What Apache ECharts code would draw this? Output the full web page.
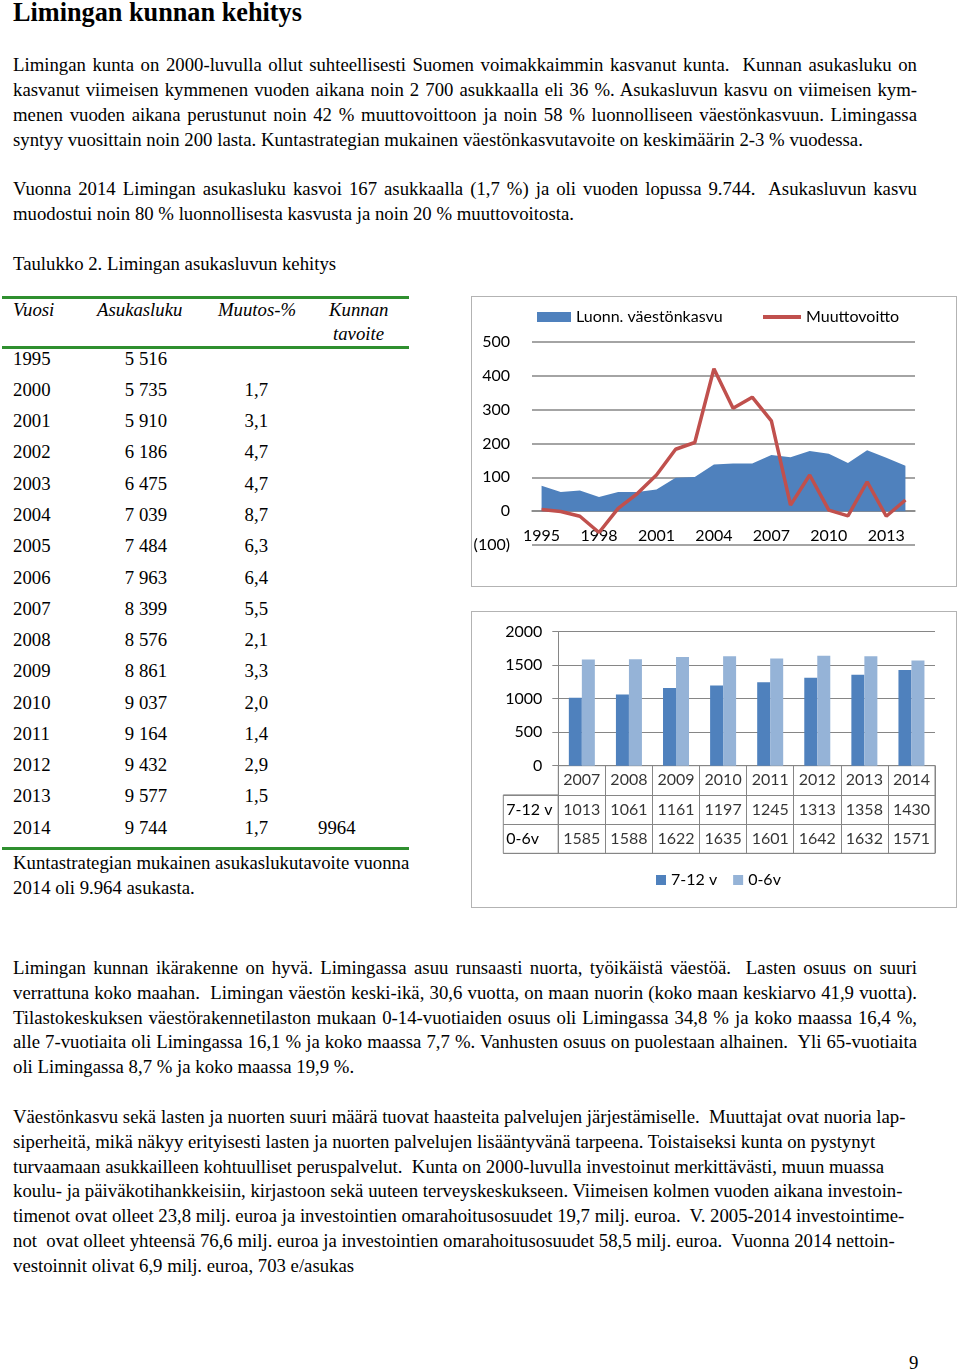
<!DOCTYPE html>
<html><head><meta charset="utf-8">
<script src="https://cdn.jsdelivr.net/npm/echarts/dist/echarts.min.js"></script>
<style>
html,body{margin:0;padding:0;background:#fff;}
body{width:960px;height:1371px;position:relative;overflow:hidden;font-family:"Liberation Serif","Times New Roman",serif;color:#000;}
.ln{position:absolute;white-space:pre;line-height:24px;height:24px;}
.box{position:absolute;border:1.5px solid #b3b3b3;box-sizing:border-box;}
.gl{position:absolute;left:2px;width:407px;height:3px;background:#2f8f2f;}
.ch{position:absolute;}
</style></head><body>
<div class="box" style="left:471px;top:296px;width:486px;height:291px;"></div>
<div class="box" style="left:471px;top:611px;width:486px;height:297px;"></div>
<div class="gl" style="top:296px;"></div>
<div class="gl" style="top:346px;"></div>
<div class="gl" style="top:847px;"></div>
<div id="c1" class="ch" style="left:471px;top:296px;width:486px;height:291px;"></div>
<div id="c2" class="ch" style="left:471px;top:612px;width:486px;height:296px;"></div>
<script>
// ---------- data ----------
const years1 = ['1995','1996','1997','1998','1999','2000','2001','2002','2003','2004','2005','2006','2007','2008','2009','2010','2011','2012','2013','2014'];
const naturalGrowth = [75,57,61,42,57,57,64,99,101,138,141,141,166,159,178,170,142,180,158,134];
const netMigration = [5,-1,-15,-63,8,52,107,183,203,421,304,337,267,18,107,3,-14,87,-15,33];

const years2 = ['2007','2008','2009','2010','2011','2012','2013','2014'];
const age7to12 = [1013,1061,1161,1197,1245,1313,1358,1430];
const age0to6 = [1585,1588,1622,1635,1601,1642,1632,1571];
const rowLabels = ['7-12 v','0-6v'];

const tableYears = [1995,2000,2001,2002,2003,2004,2005,2006,2007,2008,2009,2010,2011,2012,2013,2014];
const population = [5516,5735,5910,6186,6475,7039,7484,7963,8399,8576,8861,9037,9164,9432,9577,9744];
const changePct = [null,1.7,3.1,4.7,4.7,8.7,6.3,6.4,5.5,2.1,3.3,2.0,1.4,2.9,1.5,1.7];
const municipalTarget = [null,null,null,null,null,null,null,null,null,null,null,null,null,null,null,9964];

// ---------- text ----------
const ctx = document.createElement('canvas').getContext('2d');
function measure(t, font){ ctx.font = font; return ctx.measureText(t).width; }
const refLine = "siperheitä, mikä näkyy erityisesti lasten ja nuorten palvelujen lisääntyvänä tarpeena. Toistaiseksi kunta on pystynyt";
let FS = 100*863.4/measure(refLine, '100px "Liberation Serif"');
if(!(FS>14 && FS<21)) FS = 17.5;
let TS = 100*289/measure("Limingan kunnan kehitys", 'bold 100px "Liberation Serif"');
if(!(TS>18 && TS<30)) TS = 24;

function topFor(baseline, fs){ return baseline - ((24 - 1.107*fs)/2 + 0.891*fs); }
function addLine(text, center, opt){
  opt = opt || {};
  const fs = opt.fs || FS;
  const d = document.createElement('div');
  d.className = 'ln';
  d.textContent = text;
  d.style.fontSize = fs + 'px';
  if (opt.bold) d.style.fontWeight = 'bold';
  if (opt.italic) d.style.fontStyle = 'italic';
  const base = opt.baseline !== undefined ? opt.baseline : center + 7;
  d.style.top = topFor(base, fs) + 'px';
  if (opt.right !== undefined) d.style.right = (960 - opt.right) + 'px';
  else d.style.left = (opt.left !== undefined ? opt.left : 13) + 'px';
  document.body.appendChild(d);
  if (opt.justify) {
    const w = d.getBoundingClientRect().width;
    const n = (text.match(/ /g) || []).length;
    if (n) d.style.wordSpacing = ((904 - w) / n) + 'px';
  }
  return d;
}

addLine("Limingan kunnan kehitys", 0, {fs: TS, bold: true, baseline: 22});

const bodyLines = [
 ["Limingan kunta on 2000-luvulla ollut suhteellisesti Suomen voimakkaimmin kasvanut kunta.  Kunnan asukasluku on", 64, true],
 ["kasvanut viimeisen kymmenen vuoden aikana noin 2 700 asukkaalla eli 36 %. Asukasluvun kasvu on viimeisen kym-", 89, true],
 ["menen vuoden aikana perustunut noin 42 % muuttovoittoon ja noin 58 % luonnolliseen väestönkasvuun. Limingassa", 114, true],
 ["syntyy vuosittain noin 200 lasta. Kuntastrategian mukainen väestönkasvutavoite on keskimäärin 2-3 % vuodessa.", 139, false],
 ["Vuonna 2014 Limingan asukasluku kasvoi 167 asukkaalla (1,7 %) ja oli vuoden lopussa 9.744.  Asukasluvun kasvu", 188, true],
 ["muodostui noin 80 % luonnollisesta kasvusta ja noin 20 % muuttovoitosta.", 213, false],
 ["Taulukko 2. Limingan asukasluvun kehitys", 263, false],
 ["Kuntastrategian mukainen asukaslukutavoite vuonna", 862, false],
 ["2014 oli 9.964 asukasta.", 887, false],
 ["Limingan kunnan ikärakenne on hyvä. Limingassa asuu runsaasti nuorta, työikäistä väestöä.  Lasten osuus on suuri", 967, true],
 ["verrattuna koko maahan.  Limingan väestön keski-ikä, 30,6 vuotta, on maan nuorin (koko maan keskiarvo 41,9 vuotta).", 992, true],
 ["Tilastokeskuksen väestörakennetilaston mukaan 0-14-vuotiaiden osuus oli Limingassa 34,8 % ja koko maassa 16,4 %,", 1017, true],
 ["alle 7-vuotiaita oli Limingassa 16,1 % ja koko maassa 7,7 %. Vanhusten osuus on puolestaan alhainen.  Yli 65-vuotiaita", 1041, true],
 ["oli Limingassa 8,7 % ja koko maassa 19,9 %.", 1066, false],
 ["Väestönkasvu sekä lasten ja nuorten suuri määrä tuovat haasteita palvelujen järjestämiselle.  Muuttajat ovat nuoria lap-", 1116, false],
 ["siperheitä, mikä näkyy erityisesti lasten ja nuorten palvelujen lisääntyvänä tarpeena. Toistaiseksi kunta on pystynyt", 1141, false],
 ["turvaamaan asukkailleen kohtuulliset peruspalvelut.  Kunta on 2000-luvulla investoinut merkittävästi, muun muassa", 1166, false],
 ["koulu- ja päiväkotihankkeisiin, kirjastoon sekä uuteen terveyskeskukseen. Viimeisen kolmen vuoden aikana investoin-", 1190, false],
 ["timenot ovat olleet 23,8 milj. euroa ja investointien omarahoitusosuudet 19,7 milj. euroa.  V. 2005-2014 investointime-", 1215, false],
 ["not  ovat olleet yhteensä 76,6 milj. euroa ja investointien omarahoitusosuudet 58,5 milj. euroa.  Vuonna 2014 nettoin-", 1240, false],
 ["vestoinnit olivat 6,9 milj. euroa, 703 e/asukas", 1265, false]
];
bodyLines.forEach(l => addLine(l[0], l[1], {justify: l[2]}));
addLine("9", 1362, {left: 909});

// table
addLine("Vuosi", 309, {italic: true, left: 13});
addLine("Asukasluku", 309, {italic: true, left: 97});
addLine("Muutos-%", 309, {italic: true, left: 218});
addLine("Kunnan", 309, {italic: true, left: 329});
addLine("tavoite", 333, {italic: true, left: 333});
function fmtPop(v){ const s = String(v); return s.slice(0, s.length-3) + ' ' + s.slice(-3); }
tableYears.forEach((y, i) => {
  const c = 358 + i * 31.27;
  addLine(String(y), c, {left: 13});
  addLine(fmtPop(population[i]), c, {right: 167});
  if (changePct[i] !== null) addLine(changePct[i].toFixed(1).replace('.', ','), c, {right: 268});
  if (municipalTarget[i] !== null) addLine(String(municipalTarget[i]), c, {left: 318});
});

// ---------- chart 1 ----------
const FONT = 'Lato';
const txt = {fontFamily: FONT, fontSize: 16, color: '#000'};
const G1 = {left: 61, top: 46, width: 383, height: 203};
const Y1 = {min: -100, max: 500};
const zeroOffset = -(G1.height * (0 - Y1.min) / (Y1.max - Y1.min));
const c1 = echarts.init(document.getElementById('c1'));
c1.setOption({
  animation: false,
  backgroundColor: 'transparent',
  legend: [
    {left: 66, top: 13, itemWidth: 34, itemHeight: 10, padding: 0,
     data: [{name: 'Luonn. väestönkasvu', icon: 'rect'}], textStyle: txt},
    {left: 292, top: 13, itemWidth: 38, itemHeight: 4, padding: 0,
     data: [{name: 'Muuttovoitto', icon: 'rect'}], textStyle: txt}
  ],
  grid: Object.assign({outerBoundsMode: 'none', containLabel: false}, G1),
  xAxis: {
    type: 'category', data: years1, boundaryGap: true, position: 'bottom', offset: zeroOffset,
    axisLine: {show: true, onZero: false, lineStyle: {color: '#868686', width: 1.5}},
    axisTick: {show: false},
    axisLabel: Object.assign({interval: 2, margin: 17, hideOverlap: false}, txt),
    splitLine: {show: false}
  },
  yAxis: {
    type: 'value', min: Y1.min, max: Y1.max, interval: 100,
    axisLine: {show: false}, axisTick: {show: false},
    axisLabel: Object.assign({margin: 22, formatter: v => v < 0 ? '(' + (-v) + ')' : String(v)}, txt),
    splitLine: {show: true, lineStyle: {color: '#868686', width: 1.5}}
  },
  series: [
    {name: 'Luonn. väestönkasvu', type: 'line', data: naturalGrowth, symbol: 'none', showSymbol: false,
     lineStyle: {width: 0, color: '#4F81BD'}, itemStyle: {color: '#4F81BD'},
     areaStyle: {color: '#4F81BD', opacity: 1, origin: 0}, z: 2},
    {name: 'Muuttovoitto', type: 'line', data: netMigration, symbol: 'none', showSymbol: false,
     lineStyle: {width: 3.5, color: '#C0504D'}, itemStyle: {color: '#C0504D'}, z: 3}
  ]
});

// ---------- chart 2 ----------
const cells = [];
years2.forEach((y, i) => {
  cells.push([i, 0, y]);
  cells.push([i, 1, age7to12[i]]);
  cells.push([i, 2, age0to6[i]]);
});
const gray = '#868686';
const c2 = echarts.init(document.getElementById('c2'));
c2.setOption({
  animation: false,
  backgroundColor: 'transparent',
  legend: {left: 185, top: 260, itemWidth: 10, itemHeight: 10, itemGap: 16, padding: 0,
           data: [{name: '7-12 v', icon: 'rect'}, {name: '0-6v', icon: 'rect'}], textStyle: txt},
  grid: [
    {left: 87.3, top: 19.7, width: 376.7, height: 134, outerBoundsMode: 'none', containLabel: false},
    {left: 87.3, top: 153.7, width: 376.7, height: 87.6, show: true, borderColor: gray, borderWidth: 1, outerBoundsMode: 'none', containLabel: false},
    {left: 32.3, top: 182.9, width: 55, height: 58.4, show: true, borderColor: gray, borderWidth: 1, outerBoundsMode: 'none', containLabel: false}
  ],
  xAxis: [
    {type: 'category', gridIndex: 0, data: years2, axisLine: {lineStyle: {color: gray}},
     axisTick: {show: false}, axisLabel: {show: false}, splitLine: {show: false}},
    {type: 'category', gridIndex: 1, data: years2, axisLine: {show: false}, axisTick: {show: false},
     axisLabel: {show: false}, splitLine: {show: true, interval: 0, lineStyle: {color: gray}}},
    {type: 'value', gridIndex: 2, show: false}
  ],
  yAxis: [
    {type: 'value', gridIndex: 0, min: 0, max: 2000, interval: 500,
     axisLine: {show: true, lineStyle: {color: gray}},
     axisTick: {show: true, length: 6, lineStyle: {color: gray}},
     axisLabel: Object.assign({margin: 16, formatter: v => String(v)}, txt),
     splitLine: {show: true, lineStyle: {color: gray}}},
    {type: 'category', gridIndex: 1, data: ['year', rowLabels[0], rowLabels[1]], inverse: true,
     axisLine: {show: false}, axisTick: {show: false}, axisLabel: {show: false},
     splitLine: {show: true, interval: 0, lineStyle: {color: gray}}},
    {type: 'category', gridIndex: 2, data: rowLabels, inverse: true,
     axisLine: {show: false}, axisTick: {show: false},
     axisLabel: Object.assign({inside: true, margin: 3, align: 'left'}, txt),
     splitLine: {show: true, interval: 0, lineStyle: {color: gray}}}
  ],
  series: [
    {name: '7-12 v', type: 'bar', xAxisIndex: 0, yAxisIndex: 0, data: age7to12, barWidth: 13, barGap: '0%',
     itemStyle: {color: '#4F81BD'}},
    {name: '0-6v', type: 'bar', xAxisIndex: 0, yAxisIndex: 0, data: age0to6, barWidth: 13, barGap: '0%',
     itemStyle: {color: '#95B3D7'}},
    {type: 'scatter', xAxisIndex: 1, yAxisIndex: 1, data: cells, symbolSize: 1,
     itemStyle: {color: 'rgba(0,0,0,0)'}, silent: true,
     label: Object.assign({show: true, position: 'inside', formatter: p => String(p.value[2])}, txt)}
  ]
});
</script>
</body></html>
